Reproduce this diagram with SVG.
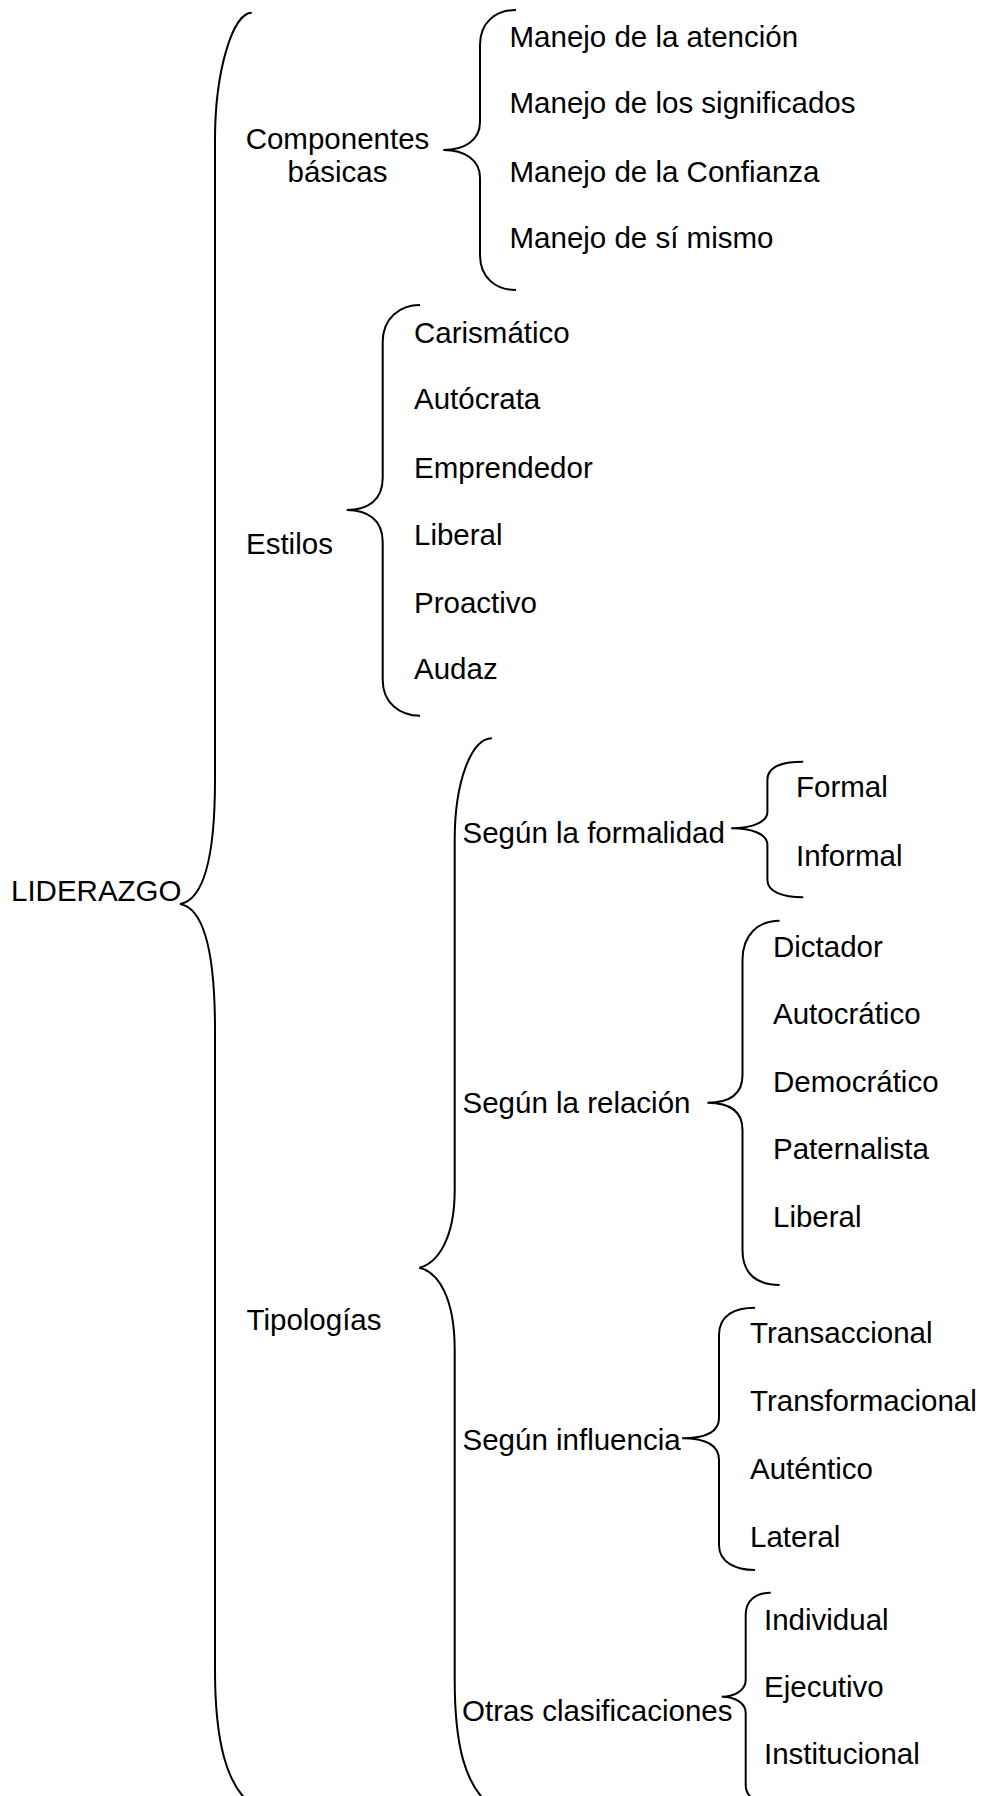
<svg xmlns="http://www.w3.org/2000/svg" width="991" height="1796" viewBox="0 0 991 1796">
<style>
text{font-family:"Liberation Sans",Arial,sans-serif;font-size:29.5px;fill:#000}
.b{fill:none;stroke:#000;stroke-width:2}
.c{text-anchor:middle}
</style>
<rect width="991" height="1796" fill="#fff"/>
<g id="connectors">
<path class="b" d="M251.7 12.7 C233 12.7 215 70 215 140 L215 780 C215 860 203 900 180 904 C203 908 215 950 215 1030 L215 1670 C215 1740 226 1785 252 1805"/>
<path class="b" d="M516 10 C496 10 480 22 480 45 L480 122 C480 140 465 150 443.3 150 C465 150 480 160 480 178 L480 255 C480 278 496 290 516 290"/>
<path class="b" d="M420 305 C400 305 382.7 318 382.7 342 L382.7 478 C382.7 500 368 510 346.7 510 C368 510 382.7 520 382.7 542 L382.7 680 C382.7 703 400 715.7 420 715.7"/>
<path class="b" d="M491.9 738.3 C472 738.3 454.7 780 454.7 840 L454.7 1190 C454.7 1238 438 1263 419.3 1267.7 C438 1272 454.7 1297 454.7 1350 L454.7 1680 C454.7 1745 465 1785 490 1805"/>
<path class="b" d="M803.2 761.7 C783 761.7 767.4 766 767.4 780 L767.4 812 C767.4 822 752 828.3 731.2 828.3 C752 828.3 767.4 834 767.4 845 L767.4 880 C767.4 892 783 897.3 803.2 897.3"/>
<path class="b" d="M779.6 920.7 C758 920.7 742.5 935 742.5 960 L742.5 1075 C742.5 1095 728 1102.7 707.4 1102.7 C728 1102.7 742.5 1110 742.5 1130 L742.5 1250 C742.5 1275 758 1285 779.6 1285"/>
<path class="b" d="M755.1 1307.7 C735 1307.7 719 1315 719 1335 L719 1418 C719 1432 705 1438.3 682.1 1438.3 C705 1438.3 719 1445 719 1460 L719 1545 C719 1562 735 1570 755.1 1570"/>
<path class="b" d="M770.7 1592.7 C756 1592.7 745.7 1600 745.7 1615 L745.7 1680 C745.7 1690 735 1696.7 721.7 1696.7 C735 1696.7 745.7 1703 745.7 1713 L745.7 1785 C745.7 1795 752 1800 765 1804"/>
</g>
<g id="liderazgo"><text x="11" y="901">LIDERAZGO</text></g>
<g id="componentes"><text class="c" x="337.5" y="149.3">Componentes</text><text class="c" x="337.5" y="181.7">básicas</text></g>
<g id="comp-items">
<text x="509.5" y="46.7">Manejo de la atención</text>
<text x="509.5" y="113.3">Manejo de los significados</text>
<text x="509.5" y="181.7">Manejo de la Confianza</text>
<text x="509.5" y="248.3">Manejo de sí mismo</text>
</g>
<g id="estilos"><text x="246" y="554.3">Estilos</text></g>
<g id="estilos-items">
<text x="414" y="342.7">Carismático</text>
<text x="414" y="409.3">Autócrata</text>
<text x="414" y="477.7">Emprendedor</text>
<text x="414" y="545">Liberal</text>
<text x="414" y="612.7">Proactivo</text>
<text x="414" y="679.3">Audaz</text>
</g>
<g id="tipologias"><text x="246.5" y="1330">Tipologías</text></g>
<g id="formalidad"><text x="462.5" y="842.7">Según la formalidad</text></g>
<g id="formalidad-items">
<text x="796" y="797.3">Formal</text>
<text x="796" y="865.7">Informal</text>
</g>
<g id="relacion"><text x="462.5" y="1113.3">Según la relación</text></g>
<g id="relacion-items">
<text x="773" y="956.7">Dictador</text>
<text x="773" y="1024.3">Autocrático</text>
<text x="773" y="1091.7">Democrático</text>
<text x="773" y="1159.3">Paternalista</text>
<text x="773" y="1226.7">Liberal</text>
</g>
<g id="influencia"><text x="462.5" y="1450">Según influencia</text></g>
<g id="influencia-items">
<text x="750" y="1343.3">Transaccional</text>
<text x="750" y="1410.7">Transformacional</text>
<text x="750" y="1479">Auténtico</text>
<text x="750" y="1546.7">Lateral</text>
</g>
<g id="otras"><text x="462" y="1721">Otras clasificaciones</text></g>
<g id="otras-items">
<text x="764" y="1630">Individual</text>
<text x="764" y="1696.7">Ejecutivo</text>
<text x="764" y="1764">Institucional</text>
</g>
</svg>
